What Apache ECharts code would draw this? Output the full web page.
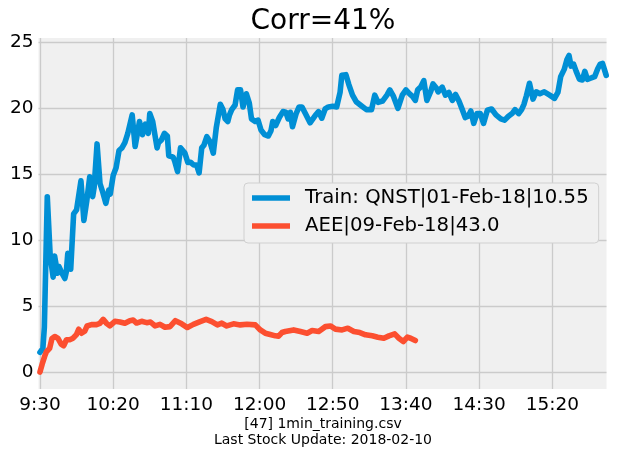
<!DOCTYPE html>
<html>
<head>
<meta charset="utf-8">
<script src="https://cdn.jsdelivr.net/npm/echarts@6/dist/echarts.min.js"></script>
<style>html,body{margin:0;padding:0;background:#fff;}#c{width:617px;height:458px;}</style>
</head>
<body>
<div id="c"></div>
<script>
const chartTitle = 'Corr=41%';
const footerLines = ['[47] 1min_training.csv', 'Last Stock Update: 2018-02-10'];
const trainName = 'Train: QNST|01-Feb-18|10.55';
const aeeName = 'AEE|09-Feb-18|43.0';
const xTickMinutes = [0, 50, 100, 150, 200, 250, 300, 350];
const xTickLabels = ['9:30', '10:20', '11:10', '12:00', '12:50', '13:40', '14:30', '15:20'];
const yTickValues = [0, 5, 10, 15, 20, 25];

const trainMinutes = [0,2,3,5,7,9,10,12,13,15,17,18,19,21,23,25,28,30,32,34,36,37,39,41,43,45,47,48,50,52,54,56,58,60,63,65,68,70,72,74,75,77,80,81,83,85,87,88,91,92,94,96,99,101,103,105,107,108.7,110.5,112,114,116,118.4,120.4,123.2,125,126.5,128.3,129.5,131,133.3,135,137,138.7,141,143,144.5,147,149,151,153.5,156,157.8,159,161,163.5,166,168,169.5,171,172.5,175,177,179,181.3,184.5,188,190.3,192.5,194.8,197,200,202.7,205,206.2,209,211,213.5,216,219.5,223,226.5,228.7,231,234,237,239,241.5,244.5,247.5,250,252.5,254.5,256.4,258,260,262.2,264.3,267,268.5,271,272,274.8,277,279.3,281.7,283.9,286.2,288.5,290.5,292.5,294.3,296.3,298.5,300.8,303,305.6,308.5,311.5,314.8,317.4,320,322.5,324.5,327,329,330.6,332.3,334.4,336.8,339,341.5,344.5,348.2,351.5,353.8,355.7,358.1,360,361.4,362.8,364.5,366.3,368.5,370.5,372.2,374,376.6,378.9,381,382.7,384.3,385.7,386.8];
const trainValues = [1.5,1.8,3.4,13.3,8.8,7.2,8.8,7.5,8.0,7.5,7.1,7.6,9.0,7.8,12.0,12.3,14.5,11.5,13.0,14.8,13.3,14.0,17.3,14.3,13.6,12.8,13.8,13.5,14.9,15.5,16.8,17.0,17.4,18.1,19.5,17.1,19.0,18.0,18.8,18.1,19.6,19.0,17.0,17.4,17.6,18.1,17.9,16.4,16.3,16.0,15.2,17.0,16.6,15.9,15.9,15.7,15.7,15.1,17.0,17.2,17.85,17.5,16.6,18.5,20.3,19.9,19.2,19.0,19.5,19.9,20.25,21.4,21.4,20.1,21.1,20.4,19.2,19.0,19.1,18.35,18.0,17.9,18.3,19.0,18.7,19.3,19.75,19.7,19.2,19.7,18.6,19.6,20.1,20.1,19.6,18.9,19.45,19.75,19.25,19.95,20.1,20.15,20.1,21.2,22.5,22.55,21.8,21.0,20.5,20.2,19.9,19.9,21.0,20.45,20.55,21.0,21.4,20.9,20.0,21.0,21.4,21.1,20.9,20.6,21.4,21.6,22.1,20.6,21.3,21.85,21.5,21.25,21.6,21.0,21.2,20.6,21.05,20.55,19.9,19.3,19.4,19.8,18.86,19.6,19.6,18.86,19.85,19.95,19.5,19.2,19.1,19.4,19.6,19.9,19.6,19.9,20.3,20.95,21.9,20.7,21.25,21.1,21.25,21.0,20.75,21.2,22.4,22.95,23.7,24.0,23.2,23.35,22.8,22.2,22.15,22.8,22.2,22.3,22.4,23.0,23.35,23.4,22.9,22.5];

const aeeMinutes = [0,1.5,3.2,4.4,6.6,8.2,10.1,12.3,14.6,16.2,18.1,20.3,22.6,24.9,26.5,28.4,30.6,32.2,35.2,38.6,40.9,43.2,45.5,47.7,51.2,54.6,58,61.4,63.7,66,69.4,72.9,75.5,78.6,82,85.4,88.8,92.5,96.8,100.7,104.8,109.4,113.5,117.4,121.2,124.2,127.6,132.2,136.8,141.4,147.1,150.5,153.9,157.3,160.8,163,165.3,167.6,173.3,177.9,182.5,185.9,190.4,195,198.4,201.8,206.4,210.3,214.4,218.5,222.4,227,230.8,234.9,238.4,242.3,245.2,248.2,251,253.2,256.4];
const aeeValues = [0.0,0.6,1.2,1.55,1.8,2.55,2.7,2.55,2.1,2.0,2.45,2.45,2.57,2.85,3.25,2.95,3.1,3.5,3.6,3.6,3.7,4.0,3.7,3.5,3.85,3.8,3.7,3.9,3.95,3.72,3.85,3.75,3.8,3.5,3.62,3.4,3.45,3.9,3.66,3.38,3.62,3.83,4.0,3.83,3.58,3.71,3.5,3.66,3.58,3.63,3.58,3.2,2.95,2.85,2.75,2.72,3.0,3.08,3.2,3.08,2.95,3.15,3.08,3.45,3.5,3.26,3.2,3.33,3.08,3.0,2.83,2.75,2.65,2.57,2.75,2.9,2.57,2.32,2.65,2.57,2.39];

const pairs = (xs, ys) => xs.map((x, k) => [x, ys[k]]);
const FONT = 'DejaVu Sans';

const chart = echarts.init(document.getElementById('c'), null, {renderer: 'canvas'});
chart.setOption({
  animation: false,
  backgroundColor: '#ffffff',
  textStyle: {fontFamily: FONT},
  grid: {
    left: 38.5, right: 10.5, top: 38, bottom: 69,
    show: true, backgroundColor: '#f0f0f0', borderWidth: 0, containLabel: false
  },
  xAxis: {
    type: 'value', min: -1, max: 387,
    axisLine: {show: false},
    axisTick: {show: false, customValues: xTickMinutes},
    splitLine: {show: true, lineStyle: {color: '#cbcbcb', width: 1.3}},
    axisLabel: {
      customValues: xTickMinutes,
      margin: 7, color: '#000', fontSize: 18.5, fontFamily: FONT,
      formatter: v => xTickLabels[xTickMinutes.indexOf(v)]
    }
  },
  yAxis: {
    type: 'value', min: -1.28, max: 25.33,
    axisLine: {show: false},
    axisTick: {show: false, customValues: yTickValues},
    splitLine: {show: true, lineStyle: {color: '#cbcbcb', width: 1.3}},
    axisLabel: {customValues: yTickValues, margin: 5, color: '#000', fontSize: 18.5, fontFamily: FONT}
  },
  legend: {
    orient: 'vertical', left: 244, top: 183,
    padding: [5, 10, 7, 8],
    backgroundColor: '#f0f0f0', borderColor: '#d0d0d0', borderWidth: 1, borderRadius: 4,
    icon: 'rect', itemWidth: 38, itemHeight: 5.6, itemGap: 8,
    textStyle: {fontSize: 19.7, color: '#000', fontFamily: FONT, lineHeight: 20, padding: [0, 0, 0, 10]},
    data: [trainName, aeeName]
  },
  series: [
    {
      name: trainName, type: 'line', data: pairs(trainMinutes, trainValues),
      showSymbol: false, symbol: 'none', color: '#008fd5',
      lineStyle: {width: 5.6, color: '#008fd5', join: 'round', cap: 'round'}
    },
    {
      name: aeeName, type: 'line', data: pairs(aeeMinutes, aeeValues),
      showSymbol: false, symbol: 'none', color: '#fc4f30',
      lineStyle: {width: 5.6, color: '#fc4f30', join: 'round', cap: 'round'}
    }
  ],
  graphic: [
    {type: 'text', x: 323, y: 22, style: {text: chartTitle, align: 'center', verticalAlign: 'middle', font: '28px "DejaVu Sans"', fill: '#000'}},
    {type: 'text', x: 323, y: 432.5, style: {text: footerLines.join('\n'), align: 'center', verticalAlign: 'middle', font: '14px "DejaVu Sans"', lineHeight: 16.5, fill: '#000'}}
  ]
});
</script>
</body>
</html>
